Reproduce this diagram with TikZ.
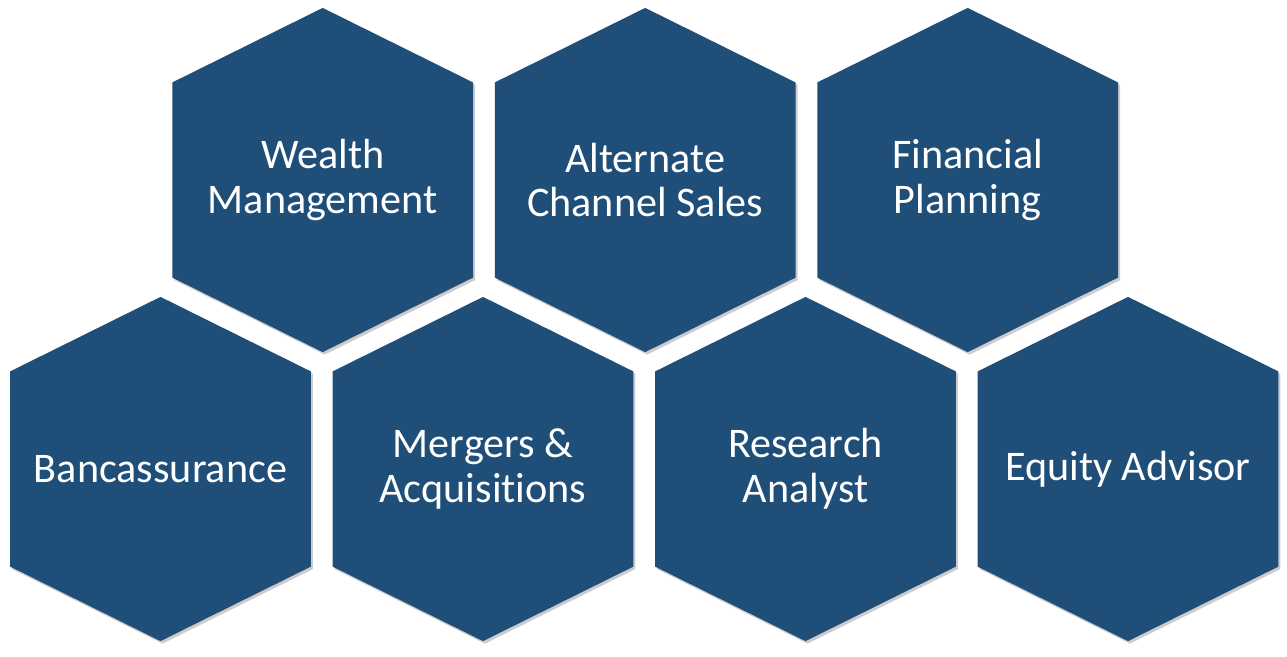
\documentclass[tikz,border=0pt]{standalone}
\usepackage{fontspec}
\setmainfont{Carlito}[Ligatures=NoCommon]
\usetikzlibrary{positioning, backgrounds, shadows}
\definecolor{hexblue}{RGB}{31,78,121}

\begin{document}
\begin{tikzpicture}[node distance=6.45cm,
  cell/.style={minimum width=6cm, minimum height=6.87cm, inner sep=0pt,
    align=center, text=white, font=\fontsize{24}{25.5}\selectfont},
  hexfill/.style={fill=hexblue,
    drop shadow={shadow xshift=0.04cm, shadow yshift=-0.05cm, opacity=0.2, fill=black}}]
\useasboundingbox (0,0) rectangle (25.74,-13.12);

% top row of cells
  \node[cell] (wm) at (6.454,-3.6) {Wealth\\Management};
  \node[cell] (acs) [right of=wm]   {Alternate\\Channel Sales};
  \node[cell] (fp)  [right of=acs]  {Financial\\Planning};

% bottom row of cells
  \node[cell] (bank) at (3.21,-9.38) {Bancassurance};
  \node[cell] (ma) [right of=bank]   {Mergers \&\\Acquisitions};
  \node[cell] (ra) [right of=ma]     {Research\\Analyst};
  \node[cell] (ea) [right of=ra]     {Equity Advisor};

% hexagons behind the texts
\begin{pgfonlayer}{background}
  \foreach \n in {wm,acs,fp,bank,ma,ra,ea}
    \fill[hexfill] (\n.north) -- ([yshift=-1.49cm]\n.north east)
      -- ([yshift=1.49cm]\n.south east) -- (\n.south)
      -- ([yshift=1.49cm]\n.south west) -- ([yshift=-1.49cm]\n.north west) -- cycle;
\end{pgfonlayer}

\end{tikzpicture}
\end{document}
